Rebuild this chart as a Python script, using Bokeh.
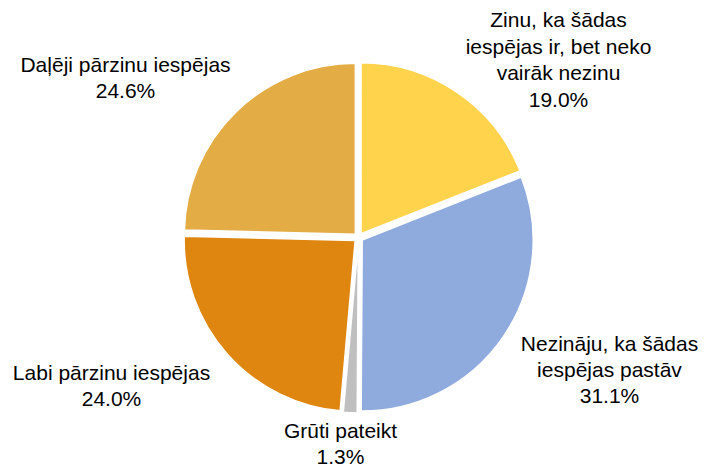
import math
from bokeh.plotting import figure
from bokeh.models import Range1d, ColumnDataSource
from bokeh.core.properties import value
from bokeh.embed import file_html
from bokeh.resources import INLINE

categories = [
    "Zinu, ka šādas\niespējas ir, bet neko\nvairāk nezinu",
    "Nezināju, ka šādas\niespējas pastāv",
    "Grūti pateikt",
    "Labi pārzinu iespējas",
    "Daļēji pārzinu iespējas",
]
shares = [19.0, 31.1, 1.3, 24.0, 24.6]
colors = ["#FFD34C", "#8FAADC", "#BFBFBF", "#DF8610", "#E3AC44"]

# label block centres (pixel layout, y measured from top of the plot)
label_x = [558, 609, 340, 111, 125]
label_y = [59, 369, 443, 385, 77]

W, H = 704, 468
p = figure(width=W, height=H, output_backend="svg", toolbar_location=None,
           x_range=Range1d(0, W), y_range=Range1d(0, H), min_border=0)
p.axis.visible = False
p.grid.visible = False
p.outline_line_color = None
p.background_fill_color = "white"
p.border_fill_color = "white"

cx, cy, r, explode = 358, H - 237, 171, 4.5
total = sum(shares)
starts, ends, xs, ys = [], [], [], []
a = math.pi / 2
for s in shares:
    sweep = 2 * math.pi * s / total
    start, end = a, a - sweep
    mid = (start + end) / 2
    starts.append(start)
    ends.append(end)
    xs.append(cx + explode * math.cos(mid))
    ys.append(cy + explode * math.sin(mid))
    a = end

src = ColumnDataSource(dict(x=xs, y=ys, start=starts, end=ends, color=colors))
p.wedge(x="x", y="y", radius=r, start_angle="start", end_angle="end",
        direction="clock", fill_color="color", line_color="white",
        line_width=1.5, source=src)

texts = [f"{c}\n{v:.1f}%" for c, v in zip(categories, shares)]
lsrc = ColumnDataSource(dict(x=label_x, y=[H - y for y in label_y], t=texts))
p.text(x="x", y="y", text="t", source=lsrc, text_align="center",
       text_baseline="middle", text_font=value("Liberation Sans"),
       text_font_size="21px", text_color="#000000", text_line_height=1.15)

open("out.html", "w").write(file_html(p, INLINE))
